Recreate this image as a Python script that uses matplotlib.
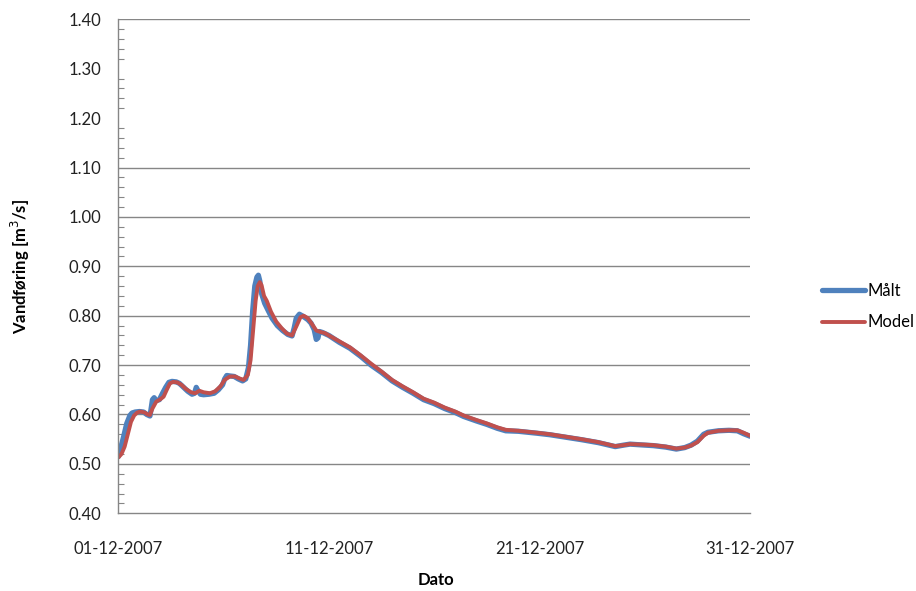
import numpy as np
import matplotlib
matplotlib.use("Agg")
import matplotlib.pyplot as plt
import matplotlib.dates as mdates
from matplotlib.ticker import MultipleLocator, FormatStrFormatter

plt.rcParams['font.family'] = ['Lato', 'DejaVu Sans']

# Days since 01-12-2007 00:00 and discharge in m3/s
maalt_day = [0.00, 0.10, 0.25, 0.40, 0.55, 0.65, 0.80, 1.00, 1.20, 1.35, 1.50, 1.55,
             1.62, 1.70, 1.80, 1.95, 2.10, 2.25, 2.40, 2.55, 2.75, 2.90, 3.10, 3.30,
             3.50, 3.62, 3.70, 3.78, 3.90, 4.05, 4.30, 4.55, 4.75, 4.95, 5.05, 5.15,
             5.30, 5.50, 5.70, 5.90, 6.05, 6.18, 6.28, 6.38, 6.48, 6.58, 6.65, 6.72,
             6.80, 6.95, 7.10, 7.30, 7.55, 7.80, 8.05, 8.25, 8.35, 8.45, 8.60, 8.80,
             9.00, 9.15, 9.30, 9.40, 9.48, 9.55, 9.70, 10.0, 10.5, 11.0, 11.5, 12.0,
             12.5, 13.0, 13.5, 14.0, 14.5, 15.0, 15.5, 16.0, 16.4, 17.0, 17.5, 18.0,
             18.4, 19.0, 19.9, 20.5, 21.4, 22.0, 22.8, 23.6, 24.0, 24.3, 25.0, 25.4,
             26.0, 26.5, 26.9, 27.2, 27.5, 27.8, 28.0, 28.5, 29.0, 29.4, 29.7, 30.0]
maalt_q = [0.515, 0.530, 0.555, 0.582, 0.598, 0.603, 0.605, 0.606, 0.605, 0.600, 0.597, 0.610,
           0.630, 0.634, 0.628, 0.630, 0.643, 0.655, 0.665, 0.667, 0.666, 0.663, 0.655, 0.647,
           0.641, 0.643, 0.655, 0.648, 0.641, 0.640, 0.641, 0.643, 0.650, 0.660, 0.672, 0.679,
           0.678, 0.677, 0.672, 0.668, 0.672, 0.695, 0.740, 0.810, 0.860, 0.878, 0.882, 0.870,
           0.845, 0.825, 0.812, 0.795, 0.780, 0.770, 0.762, 0.759, 0.775, 0.795, 0.803, 0.798,
           0.792, 0.785, 0.772, 0.752, 0.755, 0.768, 0.766, 0.760, 0.746, 0.734, 0.718, 0.700,
           0.685, 0.668, 0.655, 0.643, 0.630, 0.622, 0.612, 0.604, 0.596, 0.587, 0.580, 0.572,
           0.567, 0.566, 0.562, 0.559, 0.553, 0.549, 0.543, 0.535, 0.538, 0.540, 0.538, 0.537,
           0.534, 0.530, 0.533, 0.538, 0.546, 0.560, 0.564, 0.567, 0.568, 0.567, 0.561, 0.556]

model_day = [0.00, 0.15, 0.30, 0.45, 0.60, 0.75, 0.90, 1.05, 1.25, 1.40, 1.50, 1.62,
             1.80, 2.00, 2.15, 2.30, 2.45, 2.60, 2.80, 3.00, 3.20, 3.45, 3.65, 3.85,
             4.05, 4.35, 4.60, 4.85, 5.05, 5.30, 5.55, 5.75, 5.95, 6.15, 6.28, 6.40,
             6.52, 6.62, 6.72, 6.80, 6.92, 7.05, 7.25, 7.50, 7.75, 8.00, 8.25, 8.45,
             8.65, 8.80, 9.00, 9.20, 9.40, 9.60, 9.80, 10.0, 10.5, 11.0, 11.5, 12.0,
             12.5, 13.0, 13.5, 14.0, 14.5, 15.0, 15.5, 16.0, 16.4, 17.0, 17.5, 18.0,
             18.4, 19.0, 19.9, 20.5, 21.4, 22.0, 22.8, 23.6, 24.0, 24.3, 25.0, 25.4,
             26.0, 26.5, 26.9, 27.2, 27.5, 27.8, 28.0, 28.5, 29.0, 29.4, 29.7, 30.0]
model_q = [0.513, 0.520, 0.535, 0.560, 0.585, 0.598, 0.604, 0.606, 0.604, 0.600, 0.599, 0.612,
           0.626, 0.631, 0.636, 0.650, 0.663, 0.666, 0.665, 0.660, 0.652, 0.645, 0.643, 0.648,
           0.645, 0.643, 0.647, 0.657, 0.670, 0.677, 0.677, 0.673, 0.670, 0.680, 0.710, 0.770,
           0.830, 0.860, 0.868, 0.862, 0.840, 0.830, 0.808, 0.788, 0.775, 0.764, 0.760, 0.778,
           0.797, 0.800, 0.795, 0.783, 0.770, 0.767, 0.765, 0.760, 0.748, 0.736, 0.720, 0.703,
           0.687, 0.670, 0.657, 0.645, 0.632, 0.624, 0.614, 0.606, 0.598, 0.589, 0.582, 0.574,
           0.569, 0.567, 0.563, 0.560, 0.554, 0.550, 0.544, 0.536, 0.538, 0.540, 0.539, 0.538,
           0.535, 0.531, 0.533, 0.537, 0.544, 0.557, 0.563, 0.567, 0.568, 0.568, 0.563, 0.557]

tick_dates = ['2007-12-01', '2007-12-11', '2007-12-21', '2007-12-31']

start = np.datetime64('2007-12-01T00:00')
to_time = lambda days: start + (np.array(days) * 24 * 60).astype('timedelta64[m]')

fig = plt.figure(figsize=(9.16, 5.91), dpi=100)
ax = fig.add_axes([0.1292, 0.1315, 0.6896, 0.8358])

grid_col = '#868686'
ax.plot(to_time(maalt_day), maalt_q, color='#4F81BD', lw=3.8, label='Målt',
        solid_capstyle='round', solid_joinstyle='round')
ax.plot(to_time(model_day), model_q, color='#C0504D', lw=2.8, label='Model',
        solid_capstyle='round', solid_joinstyle='round')

ax.set_xlim(start, np.datetime64('2007-12-31T00:00'))
ax.set_ylim(0.40, 1.40)

ax.yaxis.set_major_locator(MultipleLocator(0.10))
ax.yaxis.set_minor_locator(MultipleLocator(0.02))
ax.yaxis.set_major_formatter(FormatStrFormatter('%.2f'))
ax.set_xticks([np.datetime64(d) for d in tick_dates])
ax.xaxis.set_major_formatter(mdates.DateFormatter('%d-%m-%Y'))

# horizontal grid lines
for yv in [0.50, 0.60, 0.70, 0.80, 0.90, 1.00, 1.10, 1.40]:
    ax.axhline(yv, color=grid_col, lw=1.0, zorder=0.5)

for s in ['top', 'right']:
    ax.spines[s].set_visible(False)
for s in ['left', 'bottom']:
    ax.spines[s].set_color(grid_col)
    ax.spines[s].set_linewidth(1.0)

ax.tick_params(axis='y', which='major', length=0, pad=12, labelsize=12, labelcolor='#222222')
ax.tick_params(axis='y', which='minor', direction='in', length=4, width=0.8, color=grid_col)
ax.tick_params(axis='x', which='major', length=0, pad=20, labelsize=12, labelcolor='#222222')

ax.set_ylabel('Vandføring [m$^3$/s]', fontsize=12, fontweight='bold')
ax.set_xlabel('Dato', fontsize=12, fontweight='bold')
ax.xaxis.label.set_verticalalignment('center')
ax.yaxis.label.set_verticalalignment('center')
ax.xaxis.set_label_coords(0.502, -0.1356)
ax.yaxis.set_label_coords(-0.155, 0.5)

leg = ax.legend(loc='center left', bbox_to_anchor=(1.09, 0.4186), frameon=False,
                fontsize=12, handlelength=2.6, handletextpad=0.15, labelspacing=0.95)

fig.savefig('out.png', dpi=100)
